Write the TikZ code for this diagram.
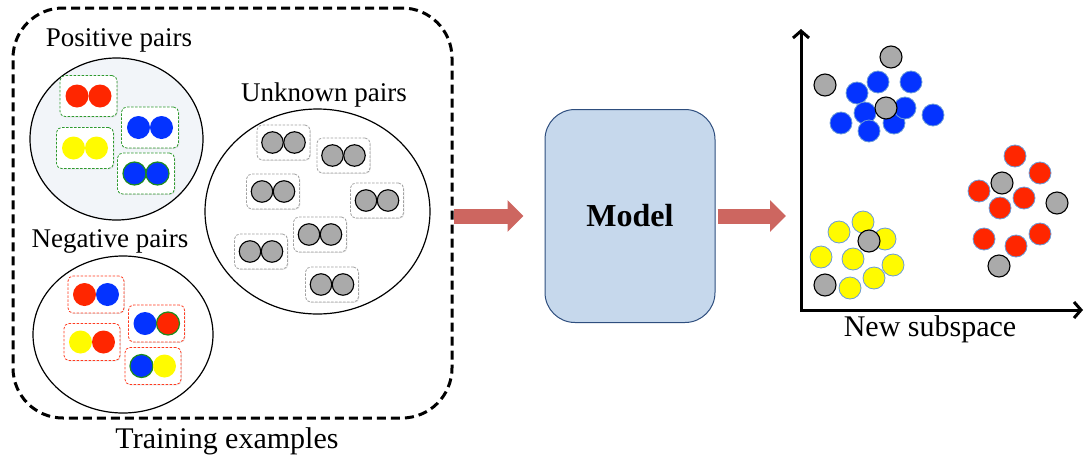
\documentclass[tikz,border=0pt]{standalone}
\usepackage{fontspec}
\setmainfont{Liberation Serif}
\usetikzlibrary{arrows.meta,shadows,calc,shapes.geometric}

\definecolor{dotRed}{HTML}{FF2600}
\definecolor{dotBlue}{HTML}{0433FF}
\definecolor{dotYellow}{HTML}{FFFB00}
\definecolor{dotGray}{HTML}{AAAAAA}
\definecolor{rimBlue}{HTML}{6A9BD8}
\definecolor{rimGreen}{HTML}{1E8C1E}
\definecolor{boxGreen}{HTML}{2E9A2E}
\definecolor{boxRed}{HTML}{FF3A1F}
\definecolor{boxGray}{HTML}{A0A0A0}
\definecolor{arrowRed}{HTML}{CD6660}
\definecolor{modelFill}{HTML}{C6D8EC}
\definecolor{modelLine}{HTML}{2E4E7E}
\definecolor{posFill}{HTML}{F2F5F9}

% two coloured dots inside a small dashed box
\newcommand\pairbox[6]{%
  \node[#4] (#1) at (#2,#3) {};
  \path (#1.center) ++(-11.5,0) node[#5] (#1-l) {};
  \path (#1.center) ++(11.5,0) node[#6] (#1-r) {};
}
\newcommand\unkpair[3]{%
  \node[unkbox] (#1) at (#2,#3) {};
  \path (#1.center) ++(-11,0) node[gdot] (#1-l) {};
  \path (#1.center) ++(11,0) node[gdot] (#1-r) {};
}

\tikzset{
  lab/.style={font=\fontsize{27}{32}\selectfont, inner sep=0pt},
  biglab/.style={font=\fontsize{30}{36}\selectfont, inner sep=0pt},
  pairset/.style={draw, ellipse, line width=1.2pt, inner sep=0pt},
  pairframe/.style={draw, rounded corners=5pt, fill=white, line width=0.8pt,
    dash pattern=on 2.5pt off 1.5pt,
    drop shadow={shadow xshift=0.8pt, shadow yshift=-0.8pt, opacity=0.2}},
  posbox/.style={pairframe, draw=boxGreen, minimum width=57pt, minimum height=41pt},
  negbox/.style={pairframe, draw=boxRed, minimum width=56pt, minimum height=37pt},
  unkbox/.style={pairframe, draw=boxGray, minimum width=53pt, minimum height=35pt},
  pdot/.style={circle, inner sep=0pt, minimum size=23pt},
  rdot/.style={pdot, fill=dotRed},
  bdot/.style={pdot, fill=dotBlue},
  ydot/.style={pdot, fill=dotYellow},
  bgdot/.style={pdot, fill=dotBlue, draw=rimGreen, line width=1.2pt},
  rgdot/.style={pdot, fill=dotRed, draw=rimGreen, line width=1.2pt},
  gdot/.style={circle, inner sep=0pt, minimum size=21.5pt, fill=dotGray, draw=black, line width=1.1pt},
  sdot/.style={circle, inner sep=0pt, minimum size=22pt, draw=rimBlue, line width=0.8pt},
  sblue/.style={sdot, fill=dotBlue},
  sred/.style={sdot, fill=dotRed},
  syellow/.style={sdot, fill=dotYellow},
  sgray/.style={circle, inner sep=0pt, minimum size=22pt, fill=dotGray, draw=black, line width=1.1pt},
  bigarrow/.style={draw=arrowRed, line width=15pt, -{Triangle[length=16pt, width=31pt]}},
  axis/.style={line width=3pt, {Straight Barb[length=7pt, width=16pt]}-{Straight Barb[length=7pt, width=16pt]}},
}

\begin{document}
\begin{tikzpicture}[x=1pt, y=-1pt]
\useasboundingbox (0,0) rectangle (1085,464);

% training examples frame
\node[draw, rounded corners=50pt, line width=3pt, dash pattern=on 9pt off 5pt,
      minimum width=439pt, minimum height=410pt, fill=white] (training) at (232.5,213) {};
\node[biglab] (trainlab) at (227,441) {Training examples};

% positive pairs
\node[pairset, fill=posFill, minimum width=173pt, minimum height=162pt] (posset) at (116.5,139) {};
\node[lab] (poslab) at (119,40) {Positive pairs};
\pairbox{p1}{88.5}{96}{posbox}{rdot}{rdot}
\pairbox{p2}{150}{127.5}{posbox}{bdot}{bdot}
\pairbox{p3}{85}{148}{posbox}{ydot}{ydot}
\pairbox{p4}{146}{173.5}{posbox}{bgdot}{bgdot}

% negative pairs
\node[pairset, fill=white, minimum width=180pt, minimum height=157pt] (negset) at (123,334.5) {};
\node[lab] (neglab) at (110,241) {Negative pairs};
\pairbox{n1}{96}{294.5}{negbox}{rdot}{bdot}
\pairbox{n2}{156.5}{323.5}{negbox}{bdot}{rgdot}
\pairbox{n3}{92}{342}{negbox}{ydot}{rdot}
\pairbox{n4}{153}{366}{negbox}{bgdot}{ydot}

% unknown pairs
\node[pairset, fill=white, minimum width=225pt, minimum height=205pt] (unkset) at (317.5,211.5) {};
\node[lab] (unklab) at (324,95) {Unknown pairs};
\unkpair{u1}{283.5}{142.5}
\unkpair{u2}{343.5}{155.5}
\unkpair{u3}{273}{191.5}
\unkpair{u4}{377}{200.5}
\unkpair{u5}{320}{234.5}
\unkpair{u6}{261}{251.5}
\unkpair{u7}{332}{284.5}

% model
\node[draw=modelLine, fill=modelFill, line width=1pt, rounded corners=30pt,
      minimum width=170pt, minimum height=213pt,
      font=\bfseries\fontsize{32}{38}\selectfont] (model) at (630,216) {Model};

% new subspace axes
\coordinate (origin) at (801,310);
\coordinate (ytip) at (801,29);
\coordinate (xtip) at (1083,310);
\draw[axis] (ytip) -- (origin) -- (xtip);
\node[biglab] (sublab) at (930,329) {New subspace};

% flow arrows
\draw[bigarrow, shorten >=21pt] (training.east |- model.west) -- (model.west);
\draw[bigarrow, shorten <=2pt, shorten >=15pt] (model.east) -- (model.east -| origin);

% blue cluster
\foreach \px/\py [count=\i] in {857/93, 878/82, 911/82, 865/113, 841/123, 869/131, 894/123, 905/108, 933/115}
  \node[sblue] (sb\i) at (\px,\py) {};
% red cluster
\foreach \px/\py [count=\i] in {1015/156, 1040/173, 979/191, 1024/198, 1000/208, 984/239, 1016/246, 1040/234}
  \node[sred] (sr\i) at (\px,\py) {};
% yellow cluster
\foreach \px/\py [count=\i] in {863/222, 839/232, 885/239, 821/257, 853/259, 893/265, 874/278, 850/288}
  \node[syellow] (sy\i) at (\px,\py) {};
% unlabelled points
\foreach \px/\py [count=\i] in {891/57, 825/85, 886/108, 1002/183, 1057/203, 999/266, 869/241, 825/285}
  \node[sgray] (sg\i) at (\px,\py) {};
\end{tikzpicture}
\end{document}
